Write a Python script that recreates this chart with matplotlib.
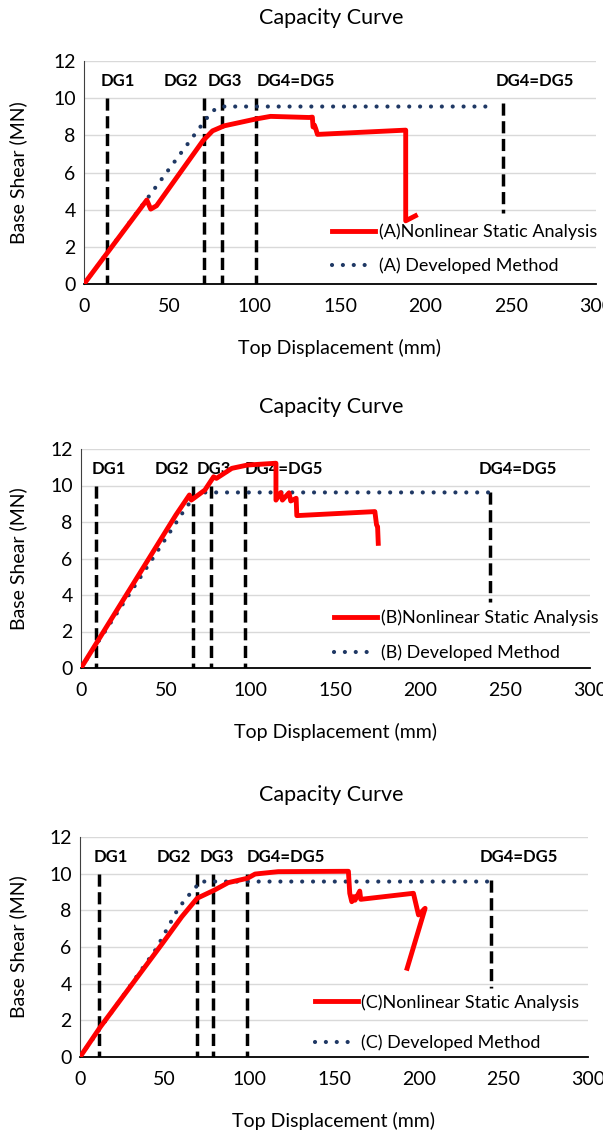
import matplotlib
matplotlib.use("Agg")
import matplotlib.pyplot as plt

plt.rcParams['font.family'] = ['Lato', 'DejaVu Sans']

# ---- data (mm, MN) ----
# (A)
nsa_a_x = [0, 36.8, 39.1, 42.5, 69.7, 75.3, 82.1, 91.2, 100.2, 109.3, 131.9, 133.8,
           134.2, 135.0, 135.8, 136.8, 188.5, 188.5, 194.2]
nsa_a_y = [0, 4.52, 4.03, 4.21, 7.71, 8.24, 8.51, 8.69, 8.87, 9.02, 8.96, 8.98,
           8.45, 8.55, 8.35, 8.05, 8.28, 3.4, 3.67]
dev_a_x = [0, 71.9, 75.3, 81, 237.5]
dev_a_y = [0, 8.92, 9.32, 9.55, 9.55]
dg_a_x = [13.5, 70.5, 81, 101, 245.5]
dg_a_top = [10, 10, 10, 10, 9.75]
dg_a_bot = [0, 0, 0, 0, 3.8]
dg_a_lab_x = [20, 56.5, 82.6, 124, 264]

# (B)
nsa_b_x = [0, 55.9, 63.9, 65.0, 73.0, 78.2, 79.8, 88.9, 98.0, 114.9, 114.9, 117.7,
           118.7, 122.6, 123.6, 126.8, 127.2, 173.2, 174.2, 174.8, 175.2]
nsa_b_y = [0, 8.38, 9.48, 9.2, 9.75, 10.48, 10.39, 10.94, 11.12, 11.22, 9.2, 9.61,
           9.2, 9.6, 9.15, 9.3, 8.35, 8.57, 7.84, 7.75, 6.83]
dev_b_x = [0, 61.6, 66.2, 70.7, 240.5]
dev_b_y = [0, 8.75, 9.3, 9.62, 9.62]
dg_b_x = [9.1, 66.0, 76.4, 96.8, 241]
dg_b_top = [10, 10, 10, 10, 9.66]
dg_b_bot = [0, 0, 0, 0, 3.63]
dg_b_lab_x = [16.3, 53.3, 78.4, 119.3, 257.2]

# (C)
nsa_c_x = [0, 12.1, 48.7, 60.1, 69.2, 79.5, 87.5, 98.9, 103.4, 117.1, 158.5, 159.3,
           160.5, 161.8, 162.4, 165.2, 165.8, 196.9, 199.9, 203.8, 193.2]
nsa_c_y = [0, 1.65, 6.2, 7.65, 8.66, 9.11, 9.51, 9.75, 9.98, 10.11, 10.13, 8.93,
           8.47, 8.75, 8.55, 9.05, 8.6, 8.93, 7.75, 8.11, 4.84]
dev_c_x = [0, 45, 58, 64, 68, 70.5, 242.7]
dev_c_y = [0, 5.9, 8.1, 8.8, 9.2, 9.57, 9.57]
dg_c_x = [11.4, 69.0, 78.8, 98.9, 242.7]
dg_c_top = [10, 10, 10, 10, 9.66]
dg_c_bot = [0, 0, 0, 0, 3.75]
dg_c_lab_x = [18.4, 55.2, 80.9, 121.7, 259.3]

dg_labels = ['DG1', 'DG2', 'DG3', 'DG4=DG5', 'DG4=DG5']
x_ticks = [0, 50, 100, 150, 200, 250, 300]
y_ticks = [0, 2, 4, 6, 8, 10, 12]

RED = '#ff0000'
NAVY = '#1f3864'
W, H = 603, 1133
FS = 14
LFS = 13

fig = plt.figure(figsize=(W / 100, H / 100), dpi=100)

panels = [
    # letter, axes px (left, right, top, bottom), series, legend anchor, label spacing, title y
    ('A', (84, 596, 61, 284), nsa_a_x, nsa_a_y, dev_a_x, dev_a_y,
     dg_a_x, dg_a_top, dg_a_bot, dg_a_lab_x, (145.5, 1.885), 0.94, 18),
    ('B', (81, 590, 449, 668), nsa_b_x, nsa_b_y, dev_b_x, dev_b_y,
     dg_b_x, dg_b_top, dg_b_bot, dg_b_lab_x, (149.3, 1.78), 1.0, 407),
    ('C', (80, 588, 837, 1057), nsa_c_x, nsa_c_y, dev_c_x, dev_c_y,
     dg_c_x, dg_c_top, dg_c_bot, dg_c_lab_x, (138.8, 1.88), 1.33, 795),
]

for (let, (l, r, t, b), nx, ny, dx, dy, gx, gtop, gbot, glx, leg_at, lsp, ty) in panels:
    ax = fig.add_axes([l / W, (H - b) / H, (r - l) / W, (b - t) / H])
    ax.set_xlim(0, 300)
    ax.set_ylim(0, 12)
    ax.set_xticks(x_ticks)
    ax.set_yticks(y_ticks)
    ax.tick_params(length=0, labelsize=FS)
    ax.tick_params(axis='x', pad=10)
    ax.tick_params(axis='y', pad=6)
    ax.grid(axis='y', color='#d9d9d9', lw=1)
    ax.set_axisbelow(True)
    for s in ['top', 'right']:
        ax.spines[s].set_visible(False)
    ax.spines['left'].set_color('#404040')
    ax.spines['bottom'].set_linewidth(1.3)

    for xx, y0, y1 in zip(gx, gtop, gbot):
        ax.plot([xx, xx], [y0, y1], color='black', lw=2.5, ls=(0, (3.5, 1.6)),
                solid_capstyle='butt', dash_capstyle='butt', zorder=2)
    for xx, lab in zip(glx, dg_labels):
        ax.text(xx, 10.9, lab, ha='center', va='center', fontsize=12, fontweight='bold')

    h1, = ax.plot(nx, ny, color=RED, lw=3.5, zorder=4, solid_joinstyle='round')
    h2, = ax.plot(dx, dy, color=NAVY, lw=3.0, ls=(0, (0.01, 2.6)),
                  dash_capstyle='round', zorder=3)
    ax.legend([h1, h2], ['(%s)Nonlinear Static Analysis' % let, '(%s) Developed Method' % let],
              loc='center left', bbox_to_anchor=leg_at, bbox_transform=ax.transData,
              frameon=False, borderpad=0, borderaxespad=0, handlelength=2.37,
              handletextpad=0.2, labelspacing=lsp, fontsize=LFS)

    ax.set_xlabel('Top Displacement (mm)', fontsize=FS, va='center')
    ax.xaxis.set_label_coords(0.5, -(64 / (b - t)))
    ax.set_ylabel('Base Shear (MN)', fontsize=FS, va='center')
    ax.yaxis.set_label_coords((18 - l) / (r - l), 0.5)
    fig.text(331 / W, 1 - ty / H, 'Capacity Curve', ha='center', va='center', fontsize=15.5)

fig.savefig('out.png', dpi=100)
